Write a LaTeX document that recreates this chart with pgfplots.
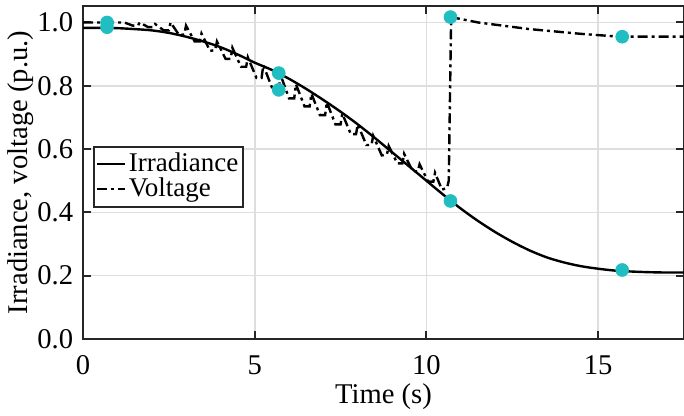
\documentclass[border=0pt]{standalone}
\usepackage{pgfplots}
\pgfplotsset{compat=1.18}
\usepackage{fontspec}
\setmainfont{Liberation Serif}
\definecolor{dotcyan}{RGB}{32,190,192}
\definecolor{gridgray}{RGB}{222,222,222}
\begin{document}
\fontsize{14.3}{17}\selectfont
\begin{tikzpicture}
\begin{axis}[scale only axis,width=300.5pt,height=166.5pt,
  xmin=0,xmax=17.5,ymin=0,ymax=1.052,
  xtick={0,5,10,15},ytick={0,0.2,0.4,0.6,0.8,1.0},
  yticklabel style={/pgf/number format/.cd,fixed,fixed zerofill,precision=1},
  xticklabel style={yshift=-3.5pt},
  /pgf/number format/assume math mode=true,
  tick label style={font=\fontsize{14.3}{17}\selectfont},
  label style={font=\fontsize{14.3}{17}\selectfont},
  tick align=inside,tick pos=both,major tick length=4pt,
  grid=major,major grid style={gridgray,line width=0.8pt},
  axis line style={line width=1.1pt,black!85},
  tick style={line width=1pt,black!85},
  xlabel={Time (s)},ylabel={Irradiance, voltage (p.u.)},
  xlabel style={yshift=5.5pt},ylabel style={yshift=-8pt},
  legend style={at={(rel axis cs:0.017,0.58)},anchor=north west,draw=black!85,line width=0.9pt,
    inner sep=1pt,row sep=-3pt,font=\fontsize{13.5}{15}\selectfont,
    nodes={inner xsep=1.5pt}},
  legend cell align=left,
  legend image code/.code={\draw[#1] (0cm,0cm) -- (0.48cm,0cm);}]
\addplot[black,line width=1.2pt,smooth] coordinates {
(0,0.983) (0.5,0.983) (1,0.982) (1.5,0.979) (2,0.975) (2.5,0.967) (3,0.955)
(3.5,0.94) (4,0.922) (4.5,0.899) (5,0.873) (5.5,0.85) (6,0.822) (6.5,0.79)
(7,0.755) (7.5,0.718) (8,0.678) (8.5,0.635) (9,0.59) (9.5,0.545) (10,0.5)
(10.5,0.455) (11,0.412) (11.5,0.373) (12,0.338) (12.5,0.307) (13,0.28)
(13.5,0.258) (14,0.242) (14.5,0.23) (15,0.222) (15.5,0.216) (16,0.213)
(16.5,0.211) (17,0.21) (17.5,0.21)};
\addlegendentry{Irradiance}
\addplot[black,line width=1.2pt,dash pattern=on 5pt off 2pt on 1.5pt off 2pt] coordinates {
(0,1.0) (1.2,1.0) (1.45,0.99) (1.6,0.99) (1.65,1.0) (1.9,0.985) (2.05,0.985)
(2.1,0.995) (2.35,0.975) (2.5,0.975) (2.55,1.0) (2.8,0.96) (2.95,0.962)
(3.0,0.99) (3.25,0.94) (3.4,0.94) (3.45,0.965) (3.7,0.91) (3.85,0.913)
(3.9,0.94) (4.15,0.885) (4.3,0.885) (4.35,0.92) (4.6,0.86) (4.75,0.86)
(4.8,0.89) (5.05,0.825) (5.2,0.825) (5.25,0.865) (5.5,0.795) (5.7,0.787)
(5.75,0.835) (6.0,0.76) (6.15,0.76) (6.2,0.805) (6.45,0.735) (6.6,0.735)
(6.65,0.775) (6.9,0.707) (7.05,0.707) (7.1,0.748) (7.35,0.678) (7.5,0.678)
(7.55,0.712) (7.8,0.647) (7.95,0.647) (8.0,0.678) (8.25,0.613) (8.4,0.613)
(8.45,0.642) (8.7,0.58) (8.85,0.583) (8.9,0.61) (9.15,0.555) (9.3,0.555)
(9.35,0.585) (9.6,0.53) (9.75,0.53) (9.8,0.552) (10.05,0.497) (10.2,0.497)
(10.25,0.525) (10.45,0.472) (10.6,0.477) (10.65,0.5) (10.72,1.017)
(11.5,1.0) (12,0.993) (12.5,0.986) (13,0.979) (13.5,0.974) (14,0.969)
(14.5,0.964) (15,0.96) (15.5,0.956) (15.7,0.955) (17.5,0.955)};
\addlegendentry{Voltage}
\addplot[only marks,mark=*,mark size=3.2pt,dotcyan,forget plot] coordinates {
(0.7,0.985) (0.7,1.0) (5.7,0.84) (5.7,0.787) (10.7,0.436) (10.7,1.017)
(15.7,0.218) (15.7,0.955)};
\end{axis}
\pgfresetboundingbox
\path[use as bounding box] (-41.5pt,-38.5pt) rectangle (300.5pt,169.5pt);
\end{tikzpicture}
\end{document}
